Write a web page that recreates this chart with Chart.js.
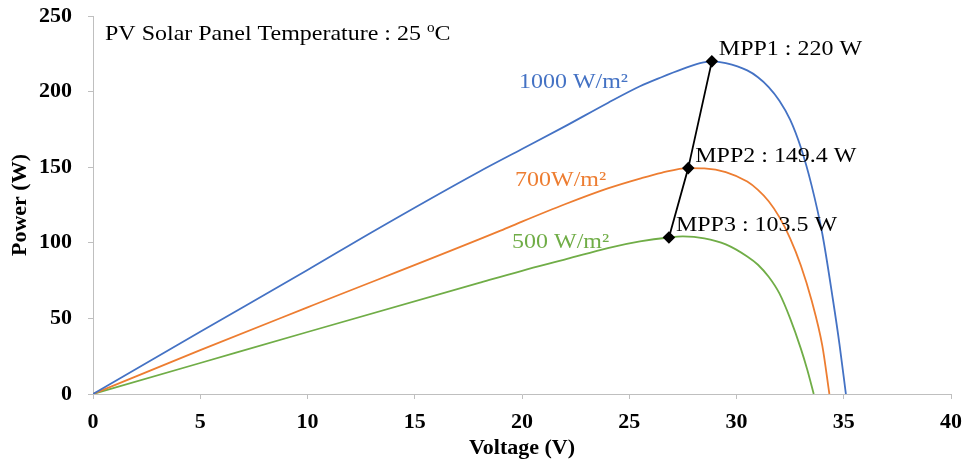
<!DOCTYPE html>
<html>
<head>
<meta charset="utf-8">
<script src="https://cdn.jsdelivr.net/npm/chart.js@4"></script>
<style>
  body { margin: 0; background: #fff; }
  #wrap { width: 967px; height: 465px; }
</style>
</head>
<body>
<div id="wrap"><canvas id="pvChart"></canvas></div>
<script>
// P-V curves (voltage in V, power in W)
const voltage1000 = [0, 5, 10, 13, 18, 20, 22, 24, 25.5, 26.5, 27.5, 28.3, 28.85, 29.5, 30.5, 31, 31.5, 32, 32.5, 33, 33.5, 34, 34.5, 34.8, 35.1];
const power1000 = [0, 41.2, 82, 107, 147, 162, 177, 192.5, 203.5, 209.5, 215, 218.8, 220, 218.8, 214, 209.5, 203, 194, 181.5, 163, 138, 106, 62, 33, 0];

const voltage700 = [0, 5, 10, 19, 20, 22, 24, 25.5, 26.5, 27.75, 28.5, 29.5, 30.5, 31, 31.5, 32, 32.5, 33, 33.5, 34, 34.33];
const power700 = [0, 29, 57.3, 108, 114, 125.5, 136, 142.5, 146.3, 149.4, 149.2, 146.8, 140.5, 135, 127.5, 117, 103, 85, 62, 32, 0];

const voltage500 = [0, 5, 10, 18, 20, 22.1, 24, 25.5, 26.85, 27.5, 28.5, 29.5, 30.5, 31, 31.5, 32, 32.5, 33, 33.3, 33.6];
const power500 = [0, 20.5, 41, 73.5, 81.5, 89.3, 96.5, 100.9, 103.5, 104.2, 103, 99, 91, 85.5, 77.5, 66.5, 50, 30, 16, 0];

// maximum power points
const mppVoltage = [28.85, 27.75, 26.85];
const mppPower = [220, 149.4, 103.5];
const mppLabels = ["MPP1 : 220 W", "MPP2 : 149.4 W", "MPP3 : 103.5 W"];

// irradiance labels and where they sit (in data units)
const curveLabels = ["1000 W/m²", "700W/m²", "500 W/m²"];
const labelVoltage = [22.4, 21.8, 21.8];
const labelPower = [206, 141.5, 100.5];

const xTicks = [0, 5, 10, 15, 20, 25, 30, 35, 40];
const yTicks = [0, 50, 100, 150, 200, 250];

const colors = ["#4472C4", "#ED7D31", "#70AD47"];
const FONT = '"Liberation Serif", "Times New Roman", serif';
const STRETCH = 1.09; // the figure's text is a bit wider than the font

const toPoints = (xs, ys) => xs.map((v, i) => ({ x: v, y: ys[i] }));

const curve = (label, xs, ys, color) => ({
  label: label,
  data: toPoints(xs, ys),
  showLine: true,
  borderColor: color,
  borderWidth: 1.8,
  pointRadius: 0,
  cubicInterpolationMode: "monotone",
  order: 1,
});

// draws text stretched a little horizontally, anchored at (x, y)
const wideText = (ctx, text, x, y, align) => {
  ctx.save();
  ctx.translate(x, y);
  ctx.scale(STRETCH, 1);
  ctx.textAlign = align;
  ctx.fillText(text, 0, 0);
  const w = ctx.measureText(text).width * STRETCH;
  ctx.restore();
  return w;
};

// text drawn on top of the plot
const textPlugin = {
  id: "pvText",
  afterDatasetsDraw(chart) {
    const { ctx, chartArea, scales } = chart;
    const x = scales.x;
    const y = scales.y;
    ctx.save();
    ctx.textBaseline = "middle";
    ctx.font = "22px " + FONT;

    curveLabels.forEach((t, i) => {
      ctx.fillStyle = colors[i];
      wideText(ctx, t, x.getPixelForValue(labelVoltage[i]), y.getPixelForValue(labelPower[i]), "center");
    });

    ctx.fillStyle = "#000";
    mppLabels.forEach((t, i) => {
      wideText(ctx, t, x.getPixelForValue(mppVoltage[i]) + 7, y.getPixelForValue(mppPower[i]) - 12, "left");
    });

    // title with a raised "o" for degrees
    let tx = chartArea.left + 12;
    const ty = chartArea.top + 18;
    tx += wideText(ctx, "PV Solar Panel Temperature : 25 ", tx, ty, "left");
    ctx.font = "14px " + FONT;
    tx += wideText(ctx, "o", tx, ty - 6, "left");
    ctx.font = "22px " + FONT;
    wideText(ctx, "C", tx, ty, "left");
    ctx.restore();
  },
};

const axisGrid = {
  drawOnChartArea: false,
  drawTicks: true,
  tickLength: 5,
  color: "#bfbfbf",
};

const ctx = document.getElementById("pvChart").getContext("2d");
new Chart(ctx, {
  type: "scatter",
  data: {
    datasets: [
      {
        label: "MPP",
        data: toPoints(mppVoltage, mppPower),
        showLine: true,
        borderColor: "#000",
        borderWidth: 1.8,
        backgroundColor: "#000",
        pointStyle: "rectRot",
        pointRadius: 5,
        tension: 0,
        order: 0,
      },
      curve(curveLabels[0], voltage1000, power1000, colors[0]),
      curve(curveLabels[1], voltage700, power700, colors[1]),
      curve(curveLabels[2], voltage500, power500, colors[2]),
    ],
  },
  options: {
    responsive: true,
    maintainAspectRatio: false,
    animation: false,
    layout: { padding: { top: 16, right: 16, left: 0, bottom: 0 } },
    plugins: {
      legend: { display: false },
      tooltip: { enabled: false },
    },
    scales: {
      x: {
        type: "linear",
        min: 0,
        max: 40,
        afterBuildTicks: (s) => { s.ticks = xTicks.map((v) => ({ value: v })); },
        afterFit: (s) => {
          s.height = 71;
          s.paddingLeft = 0;
          s.paddingRight = 0;
        },
        grid: axisGrid,
        border: { color: "#bfbfbf", width: 1 },
        ticks: {
          color: "#000",
          padding: 10,
          maxRotation: 0,
          font: { family: FONT, size: 22, weight: "bold" },
        },
        title: {
          display: true,
          text: "Voltage (V)",
          color: "#000",
          padding: { top: 0, bottom: 3 },
          font: { family: FONT, size: 22, weight: "bold" },
        },
      },
      y: {
        type: "linear",
        min: 0,
        max: 250,
        afterBuildTicks: (s) => { s.ticks = yTicks.map((v) => ({ value: v })); },
        afterFit: (s) => {
          s.width = 93;
          s.paddingTop = 0;
          s.paddingBottom = 0;
        },
        grid: axisGrid,
        border: { color: "#bfbfbf", width: 1 },
        ticks: {
          color: "#000",
          padding: 16,
          font: { family: FONT, size: 22, weight: "bold" },
        },
        title: {
          display: true,
          text: "Power (W)",
          color: "#000",
          padding: { top: 7, bottom: 0 },
          font: { family: FONT, size: 22, weight: "bold" },
        },
      },
    },
  },
  plugins: [textPlugin],
});
</script>
</body>
</html>
